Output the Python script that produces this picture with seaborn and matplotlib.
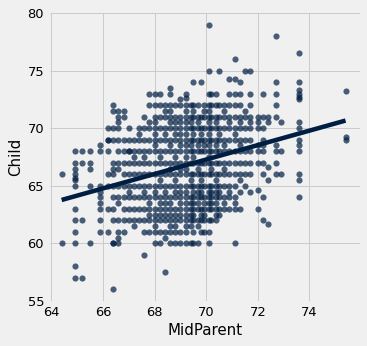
import matplotlib
matplotlib.use("Agg")
import matplotlib.pyplot as plt
import seaborn as sns
import pandas as pd

# MidParent levels (x) and the Child heights observed at each level (y)
mid_levels = [64.4, 64.9, 65.2, 65.5, 65.9, 66.2, 66.4, 66.6, 66.8, 67.0,
              67.2, 67.4, 67.6, 67.8, 68.0, 68.2, 68.4, 68.6, 68.8, 69.0,
              69.2, 69.4, 69.5, 69.7, 69.8, 69.9, 70.1, 70.2, 70.4, 70.5,
              70.7, 70.9, 71.1, 71.3, 71.5, 71.7, 72.0, 72.2, 72.4, 72.7,
              72.9, 73.6, 75.4]

child_by_level = [
    [66, 60],
    [68, 67, 66.5, 66, 65.7, 65.5, 65, 63, 62, 61, 60, 58, 57],
    [68, 67, 62, 57],
    [68, 67, 66.5, 65, 60],
    [68.5, 68, 65, 64.5, 64, 63.5, 63, 62, 61],
    [70, 69, 69, 68, 66, 65, 63, 61],
    [72, 71.5, 70, 69, 67, 66.5, 66, 65, 64, 63, 62, 60, 60, 56],
    [71.5, 71, 70.5, 70, 69, 68, 67, 66.5, 65, 64, 63.5, 62, 61, 60.5, 60],
    [71.5, 71, 69, 68, 67, 66, 65, 64, 63, 62, 61],
    [70, 69, 68, 68, 67, 66, 65, 64.5, 64, 63, 62],
    [69, 68, 67.5, 67, 66, 65, 64, 63, 62, 61.5],
    [70, 69.5, 69, 68, 67, 66, 65, 64, 63, 62],
    [71, 70, 69, 68, 67.5, 67, 66, 65, 64.5, 64, 63, 62, 61, 59],
    [73, 72, 70.5, 70, 69, 68, 67, 66, 65, 64, 63, 62, 61, 63.5, 62.5],
    [73, 72, 71, 70.5, 70, 69.5, 69, 68.5, 68, 67, 66, 65, 64, 63, 62, 61, 60, 64.5, 62.5, 61.5],
    [73, 72, 71, 70, 69, 68, 67.5, 67, 66, 65.5, 65, 64, 63, 62, 61, 63.5, 62.5, 60],
    [72, 71.5, 71, 70, 69.5, 69, 68, 67, 66, 65, 64, 63, 62, 61, 60.5, 57.5, 64.5, 63.5, 62.5],
    [73.5, 73, 72, 71.5, 71, 70.5, 70, 69, 68.5, 68, 67, 66.5, 66, 65, 64, 63, 62.5, 62, 61, 60, 63.5, 61.5],
    [72, 71, 70.5, 70, 69.5, 69, 68, 67.5, 67, 66, 65.5, 65, 64, 63, 62, 61, 60, 64.5, 62.5, 61.5],
    [72.5, 72, 71, 70.5, 70, 69.5, 69, 68.5, 68, 67, 66.5, 66, 65, 64.5, 64, 63, 62, 61, 60, 63.5, 62.5],
    [73, 72.6, 72, 71.5, 71, 70.5, 70, 69.5, 69, 68.5, 68, 67.5, 67, 66.5, 66, 65, 64, 63.5, 63, 62, 61, 60, 64.5, 62.5, 61.5],
    [72, 71, 70.5, 70, 69, 68.5, 68, 67, 66, 65.5, 65, 64, 63, 62, 61.5, 60, 63.5, 62.5],
    [74, 72, 71.5, 71, 70, 69.5, 69, 68, 67.5, 67, 66, 65, 64, 63, 62, 61, 60, 64.5, 63.5, 62.5],
    [72, 71, 70.5, 70, 69, 68.5, 68, 67, 66.5, 66, 65, 64.5, 64, 63, 62, 60, 63.5, 61.5],
    [74, 71, 70, 69.5, 69, 68, 67, 66, 65.5, 65, 64, 63, 62, 61, 64.5, 62.5],
    [72, 71.5, 71, 70, 69, 68.5, 68, 67, 66, 65, 64, 63.5, 63, 62, 61, 62.5],
    [79, 75, 73, 72, 71.5, 71, 70.5, 70, 69.5, 69, 68.5, 68, 67.5, 67, 66, 65, 64, 63, 62, 60, 64.5, 63.5, 61],
    [73, 72, 71, 70, 69, 68, 67, 66.5, 66, 65, 64, 63, 62, 64.5, 63.5],
    [73, 72, 71, 70.5, 70, 69, 68.5, 68, 67, 66, 65.5, 65, 64, 63, 62.5, 62, 64.5, 63.5],
    [75, 72, 71, 70, 69.5, 69, 68, 67, 66, 65, 64, 63, 62.5, 64.5],
    [72, 71.5, 71, 70, 69, 68.5, 68, 67, 66.5, 66, 65, 64, 63, 63.5],
    [74.3, 73, 72, 71, 70.5, 70, 69, 68, 67, 66, 65, 64, 63, 64.5],
    [76, 74.3, 73, 72, 71, 70, 69.5, 69, 68, 67, 66, 65, 64, 63.5, 63, 60],
    [74, 73, 72, 71, 70.5, 70, 69, 68.5, 68, 67, 66, 65.5, 64.5, 63],
    [75, 71.5, 71, 70, 69, 68, 67, 66, 65],
    [75, 73, 72, 71, 70.5, 70, 69, 68, 67, 66, 64.5],
    [71, 70.5, 70, 68.5, 68, 67, 64.6, 63],
    [73, 71, 70, 69, 68.5, 68, 67, 66, 64, 62],
    [71, 70.5, 66.6, 65.5, 61.7],
    [78, 74, 73, 72, 71, 68.5, 68, 67, 66],
    [70.5, 68, 66],
    [76.5, 74, 73.3, 73, 72.7, 72.5, 70.5, 70, 69, 68.5, 68, 66, 65.5, 64],
    [73.2, 69.2, 69.0],
]

x_ticks = [64, 66, 68, 70, 72, 74]
y_ticks = [55, 60, 65, 70, 75, 80]

mid, child = [], []
for m, ys in zip(mid_levels, child_by_level):
    for y in ys:
        mid.append(m)
        child.append(y)
df = pd.DataFrame({"MidParent": mid, "Child": child})

plt.style.use("fivethirtyeight")
navy = (0.0, 30 / 256, 66 / 256)

fig = plt.figure(figsize=(367 / 72, 346 / 72), dpi=72, facecolor="#f0f0f0")
ax = fig.add_axes([50 / 367, 45 / 346, 310 / 367, 288 / 346])
ax.set_facecolor("#f0f0f0")

sns.regplot(data=df, x="MidParent", y="Child", ax=ax, ci=None,
            scatter_kws=dict(s=38, alpha=0.7, color=navy, linewidths=0),
            line_kws=dict(color=navy, lw=4.5))

ax.set_xlim(63.95, 75.96)
ax.set_ylim(55, 80)
ax.set_xticks(x_ticks)
ax.set_yticks(y_ticks)
ax.tick_params(axis="both", labelsize=13, length=0, colors="black")
ax.tick_params(axis="x", pad=5)
ax.tick_params(axis="y", pad=6)
ax.set_xlabel("MidParent", fontsize=15, color="black")
ax.set_ylabel("Child", fontsize=15, color="black")
ax.grid(True, color="#cbcbcb", lw=1)
for s in ax.spines.values():
    s.set_visible(False)

fig.savefig("out.png", dpi=72, facecolor="#f0f0f0")
